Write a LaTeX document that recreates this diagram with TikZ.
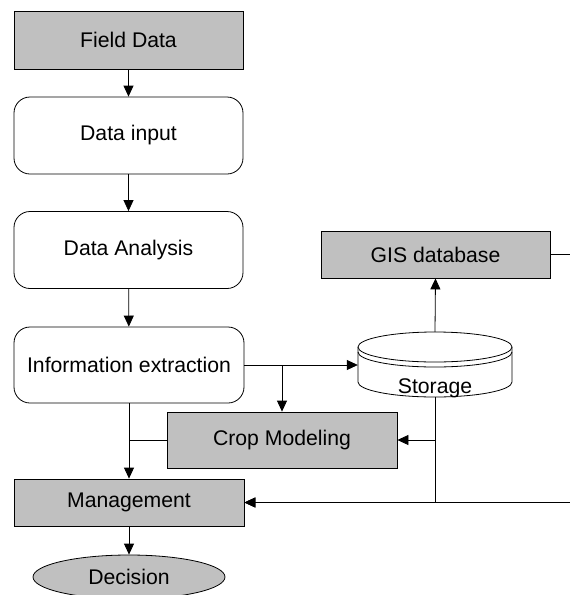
\documentclass[tikz,border=0pt]{standalone}
\usepackage{fontspec}
\setmainfont{Liberation Sans}
\usetikzlibrary{arrows.meta,shapes.geometric}
\definecolor{boxgray}{HTML}{C0C0C0}
\begin{document}
\begin{tikzpicture}[x=1pt,y=-1pt,
  every node/.style={font=\fontsize{21.2}{25}\selectfont, inner sep=0pt},
  graybox/.style={draw, line width=0.8pt, fill=boxgray, minimum width=229pt},
  roundbox/.style={draw, line width=0.8pt, fill=white, rounded corners=16pt, minimum width=229pt, minimum height=77pt},
  arr/.style={line width=0.8pt, -{Triangle[length=11pt,width=10pt]}},
  ln/.style={line width=0.8pt}]
\path[use as bounding box] (0,0) rectangle (570,595);
\clip (0,0) rectangle (570,595);

\node[graybox, minimum height=58pt] (fd) at (128.5,40) {Field Data};
\node[roundbox] (di) at (128.5,135.5) {Data input};
\node[roundbox] (da) at (128.5,250) {Data Analysis};
\node[roundbox, minimum width=230pt, minimum height=76pt] (ie) at (129,365) {Information extraction};
\node[graybox, minimum height=47pt] (gis) at (435.5,254.5) {GIS database};
\node[graybox, minimum width=230pt, minimum height=56pt] (crop) at (282,440) {Crop Modeling};
\node[graybox, minimum width=230pt, minimum height=47pt] (mg) at (129,502.5) {Management};
\node[draw, line width=0.8pt, fill=boxgray, ellipse, minimum width=192pt, minimum height=44pt] (dec) at (129,577) {Decision};

% storage cylinder
\node[minimum width=154pt, minimum height=65pt] (stor) at (435,364.5) {};
\draw[ln, fill=white] (358,347) -- (358,382) arc[start angle=180, end angle=0, x radius=77, y radius=15] -- (512,347);
\draw[ln, fill=white] (435,347) ellipse[x radius=77, y radius=15];
\draw[ln] (358,352) arc[start angle=180, end angle=0, x radius=77, y radius=15];
\node (storlbl) at (435,388) {Storage};

\coordinate (gisout) at (570,254.5);
\coordinate (mgin) at (570,502.5);

\draw[arr] (fd) -- (di);
\draw[arr] (di) -- (da);
\draw[arr] (da) -- (ie);
\draw[arr] (ie.east) -- (ie.east -| stor.west);
\draw[arr] (ie.east -| crop.north) -- (crop.north);
\draw[arr] (ie.south) -- (mg.north);
\draw[ln] (crop.west) -- (crop.west -| ie.south);
\draw[arr] (stor.north) -- (gis.south);
\draw[ln] (gis.east) -- (gisout);
\draw[arr] (stor.south) |- (mg.east);
\draw[arr] (stor.south |- crop.east) -- (crop.east);
\draw[arr] (mgin) -- (mg.east);
\draw[arr] (mg.south) -- (dec.north);
\end{tikzpicture}
\end{document}
